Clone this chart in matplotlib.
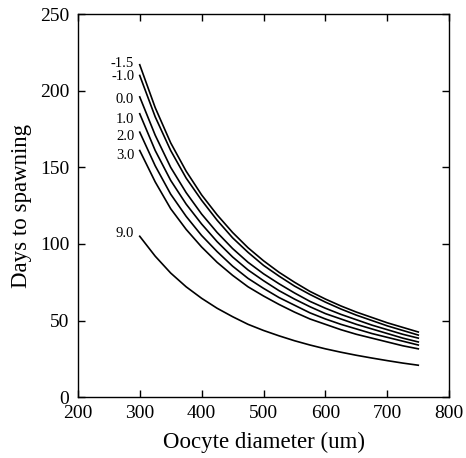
import matplotlib
matplotlib.use("Agg")
import matplotlib.pyplot as plt

diameter = [300, 325, 350, 375, 400, 425, 450, 475, 500, 525,
            550, 575, 600, 625, 650, 675, 700, 725, 750]
temp_labels = ["-1.5", "-1.0", "0.0", "1.0", "2.0", "3.0", "9.0"]
days_m15 = [217, 189, 166, 147.5, 132, 119, 107.5, 97.5, 89, 81.5, 75, 69, 64, 59.5, 55.5, 52, 48.5, 45.5, 42.5]
days_m10 = [210, 183, 161, 143, 128.5, 115.5, 104, 94.5, 86, 79, 72.5, 67, 62, 57.5, 53.5, 50, 46.5, 43.5, 40.5]
days_00 = [196, 171, 150, 133.5, 119.5, 107.5, 97, 88, 80.5, 74, 68, 62.5, 58, 54, 50.5, 47, 44, 41, 38.5]
days_10 = [185, 161, 141.5, 126, 113, 101.5, 91.5, 83, 76, 69.5, 64, 59, 54.5, 51, 47.5, 44.5, 41.5, 38.5, 36]
days_20 = [173, 151, 132.5, 118, 105.5, 95, 85.5, 77.5, 71, 65, 60, 55, 51, 47.5, 44.5, 41.5, 39, 36.5, 34]
days_30 = [161, 140.5, 123, 109.5, 98, 88, 79.5, 72, 66, 60.5, 55.5, 51, 47.5, 44, 41, 38.5, 36, 33.5, 31.5]
days_90 = [105, 92, 81, 72, 64.5, 58, 52.5, 47.5, 43.5, 40, 36.8, 34, 31.5, 29.3, 27.3, 25.5, 23.8, 22.2, 20.8]
series = [days_m15, days_m10, days_00, days_10, days_20, days_30, days_90]
label_y = [218, 209.5, 194.5, 181, 170, 157.5, 106.5]
xticks = [200, 300, 400, 500, 600, 700, 800]
yticks = [0, 50, 100, 150, 200, 250]

plt.rcParams['font.family'] = ['Liberation Serif', 'DejaVu Serif']

fig = plt.figure(figsize=(4.66, 4.58), dpi=100)
ax = fig.add_axes([0.167, 0.133, 0.797, 0.836])

for lab, vals, ly in zip(temp_labels, series, label_y):
    ax.plot(diameter, vals, color='black', lw=1.2)
    ax.text(291, ly, lab, ha='right', va='center', fontsize=10.5)

ax.set_xlim(200, 800)
ax.set_ylim(0, 250)
ax.set_xticks(xticks)
ax.set_yticks(yticks)
ax.tick_params(direction='in', top=True, right=True, length=5, width=1,
               labelsize=14, pad=6)
for s in ax.spines.values():
    s.set_linewidth(1)
ax.set_xlabel("Oocyte diameter (um)", fontsize=16.5, labelpad=7)
ax.set_ylabel("Days to spawning", fontsize=16.5, labelpad=6)

fig.savefig("out.png", dpi=100)
